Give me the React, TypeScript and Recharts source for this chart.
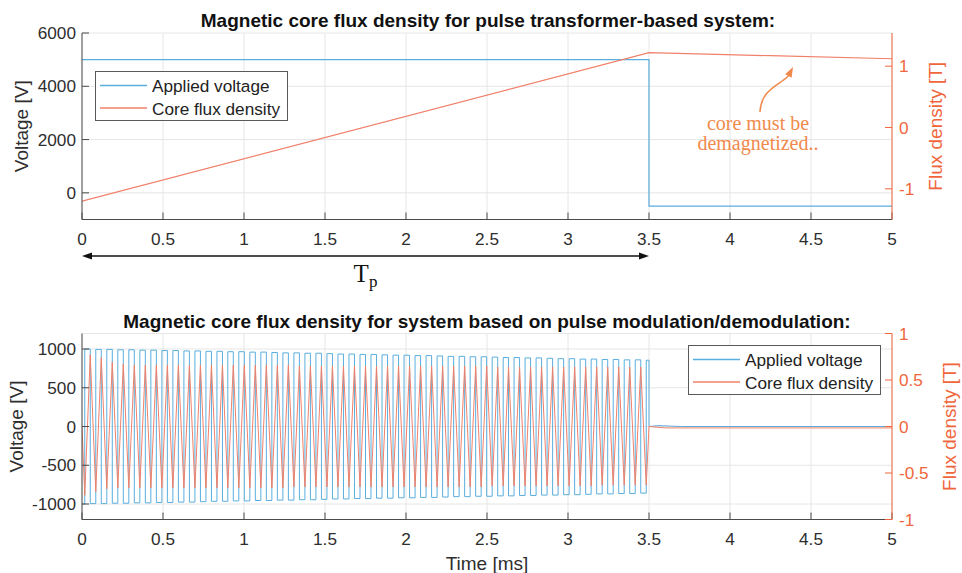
import React from 'react';
import { ComposedChart, Line, XAxis, YAxis, CartesianGrid, ReferenceLine, Label } from 'recharts';

// ---------- shared axis ticks ----------
const timeTicks = [0, 0.5, 1, 1.5, 2, 2.5, 3, 3.5, 4, 4.5, 5];

// ---------- pulse transformer-based system ----------
const pulseVoltageTimes = [0, 3.5, 3.5, 5];
const pulseVoltageValues = [5000, 5000, -500, -500];
const pulseFluxTimes = [0, 3.5, 4.25, 5];
const pulseFluxValues = [-1.2, 1.22, 1.17, 1.12];
const pulseVoltageTicks = [0, 2000, 4000, 6000];
const pulseFluxTicks = [-1, 0, 1];

// ---------- pulse modulation/demodulation system ----------
// instants where the bridge switches to +V (ms)
const riseTimes = [
  0.017, 0.085, 0.153, 0.221, 0.289, 0.357, 0.425, 0.493, 0.561, 0.629,
  0.697, 0.765, 0.833, 0.9, 0.968, 1.036, 1.104, 1.172, 1.24, 1.308,
  1.376, 1.444, 1.512, 1.58, 1.648, 1.716, 1.784, 1.852, 1.92, 1.988,
  2.056, 2.124, 2.192, 2.26, 2.328, 2.396, 2.464, 2.532, 2.6, 2.667,
  2.735, 2.803, 2.871, 2.939, 3.007, 3.075, 3.143, 3.211, 3.279, 3.347,
  3.415, 3.483,
];
// instants where the bridge switches to -V (ms)
const fallTimes = [
  0.051, 0.119, 0.187, 0.255, 0.323, 0.391, 0.459, 0.527, 0.595, 0.663,
  0.731, 0.799, 0.867, 0.934, 1.002, 1.07, 1.138, 1.206, 1.274, 1.342,
  1.41, 1.478, 1.546, 1.614, 1.682, 1.75, 1.818, 1.886, 1.954, 2.022,
  2.09, 2.158, 2.226, 2.294, 2.362, 2.43, 2.498, 2.566, 2.633, 2.701,
  2.769, 2.837, 2.905, 2.973, 3.041, 3.109, 3.177, 3.245, 3.313, 3.381,
  3.449,
];
// positive pulse level (V), one per riseTimes entry
const highLevels = [
  1000, 995, 995, 990, 990, 985, 985, 980, 980, 975,
  975, 970, 970, 965, 965, 960, 960, 955, 950, 950,
  945, 945, 940, 935, 935, 930, 930, 925, 920, 920,
  915, 915, 910, 905, 905, 900, 900, 895, 890, 890,
  885, 885, 880, 875, 875, 870, 870, 865, 865, 860,
  860, 855,
];
// negative pulse level (V), the one preceding each riseTimes entry
const lowLevels = [
  -1000, -995, -995, -990, -990, -985, -985, -980, -980, -975,
  -975, -970, -965, -965, -960, -960, -955, -955, -950, -950,
  -945, -945, -940, -935, -935, -930, -930, -925, -925, -920,
  -920, -915, -915, -910, -905, -905, -900, -900, -895, -895,
  -890, -890, -885, -885, -880, -880, -875, -870, -870, -865,
  -865, -860,
];
// flux maxima at each fall (T)
const fluxPeaks = [
  0.77, 0.74, 0.69, 0.67, 0.66, 0.66, 0.66, 0.66, 0.66, 0.66,
  0.66, 0.66, 0.66, 0.66, 0.66, 0.66, 0.66, 0.66, 0.66, 0.65,
  0.65, 0.65, 0.65, 0.65, 0.65, 0.65, 0.65, 0.65, 0.65, 0.65,
  0.65, 0.65, 0.65, 0.65, 0.65, 0.65, 0.65, 0.64, 0.64, 0.64,
  0.64, 0.64, 0.64, 0.64, 0.64, 0.64, 0.64, 0.64, 0.64, 0.64,
  0.64,
];
// flux minima at each rise (T)
const fluxTroughs = [
  -0.74, -0.7, -0.67, -0.66, -0.66, -0.66, -0.66, -0.66, -0.66, -0.66,
  -0.66, -0.66, -0.66, -0.66, -0.66, -0.66, -0.66, -0.66, -0.66, -0.65,
  -0.65, -0.65, -0.65, -0.65, -0.65, -0.65, -0.65, -0.65, -0.65, -0.65,
  -0.65, -0.65, -0.65, -0.65, -0.65, -0.65, -0.65, -0.64, -0.64, -0.64,
  -0.64, -0.64, -0.64, -0.64, -0.64, -0.64, -0.64, -0.63, -0.63, -0.63,
  -0.63, -0.63,
];
const burstEnd = 3.5;
const tailVoltageTimes = [3.5, 3.56, 3.64, 3.7, 5];
const tailVoltageValues = [0, 12, 4, 0, 0];
const tailFluxTimes = [3.5, 3.6, 5];
const tailFluxValues = [0, -0.015, -0.015];
const modVoltageTicks = [-1000, -500, 0, 500, 1000];
const modFluxTicks = [-1, -0.5, 0, 0.5, 1];

// ---------- series tables ----------
type Pt = { t: number; v: number };
const zip = (ts: number[], vs: number[]): Pt[] => ts.map((t, i) => ({ t, v: vs[i] }));

const pulseVoltage = zip(pulseVoltageTimes, pulseVoltageValues);
const pulseFlux = zip(pulseFluxTimes, pulseFluxValues);

const buildBurstVoltage = (): Pt[] => {
  const pts: Pt[] = [{ t: 0, v: lowLevels[0] }];
  riseTimes.forEach((tr, i) => {
    pts.push({ t: tr, v: lowLevels[i] });
    pts.push({ t: tr, v: highLevels[i] });
    const tEnd = i < fallTimes.length ? fallTimes[i] : burstEnd;
    pts.push({ t: tEnd, v: highLevels[i] });
    if (i + 1 < lowLevels.length) pts.push({ t: tEnd, v: lowLevels[i + 1] });
  });
  return pts.concat(zip(tailVoltageTimes, tailVoltageValues));
};

const buildBurstFlux = (): Pt[] => {
  const pts: Pt[] = [{ t: 0, v: 0 }];
  riseTimes.forEach((tr, i) => {
    pts.push({ t: tr, v: fluxTroughs[i] });
    if (i < fallTimes.length) pts.push({ t: fallTimes[i], v: fluxPeaks[i] });
  });
  return pts.concat(zip(tailFluxTimes, tailFluxValues));
};

const burstVoltage = buildBurstVoltage();
const burstFlux = buildBurstFlux();

// ---------- styling ----------
const FONT = "'Liberation Sans', Arial, Helvetica, sans-serif";
const SERIF = "'Liberation Serif', 'DejaVu Serif', serif";
const VOLT_COLOR = '#5AAEDD';
const FLUX_COLOR = '#F0806A';
const RIGHT_AXIS_COLOR = '#F0663C';
const NOTE_COLOR = '#F08A4C';
const AXIS_COLOR = '#4A4A4A';
const TICK_TEXT = '#2E2E2E';
const GRID_COLOR = '#E6E6E6';
const TICK_FONT = { fontSize: 17.2, fontFamily: FONT };

const sideTitle = (text: string, shift: number, color: string) => (props: any) => {
  const vb = props.viewBox || { x: 0, y: 0, width: 0, height: 0 };
  const cx = vb.x + shift;
  const cy = vb.y + vb.height / 2;
  return (
    <text x={cx} y={cy} transform={`rotate(-90 ${cx} ${cy})`} textAnchor="middle" fontSize={19} fontFamily={FONT} fill={color}>
      {text}
    </text>
  );
};

const bottomTitle = (text: string, shift: number) => (props: any) => {
  const vb = props.viewBox || { x: 0, y: 0, width: 0, height: 0 };
  return (
    <text x={vb.x + vb.width / 2} y={vb.y + shift} textAnchor="middle" fontSize={19} fontFamily={FONT} fill={TICK_TEXT}>
      {text}
    </text>
  );
};

// double-headed arrow marking the pulse width
const SpanArrow = (p: any) => {
  const { x1, y1, x2 } = p;
  const head = 10;
  const half = 3.5;
  const mid = (x1 + x2) / 2;
  return (
    <g>
      <line x1={x1 + head - 1} y1={y1} x2={x2 - head + 1} y2={y1} stroke="#111" strokeWidth={1.6} />
      <polygon points={`${x1},${y1} ${x1 + head},${y1 - half} ${x1 + head},${y1 + half}`} fill="#111" />
      <polygon points={`${x2},${y1} ${x2 - head},${y1 - half} ${x2 - head},${y1 + half}`} fill="#111" />
      <text x={mid} y={y1 + 26} textAnchor="middle" fontFamily={SERIF} fontSize={25} fill="#111">
        T<tspan fontSize={17} dy={5}>p</tspan>
      </text>
    </g>
  );
};

// curved call-out pointing at the residual flux
const NoteArrow = (p: any) => {
  const { x1, y1, x2, y2 } = p;
  const dx = x2 - x1;
  const dy = y2 - y1;
  const c1x = x1 + 0.03 * dx, c1y = y1 + 0.49 * dy;
  const c2x = x1 + 0.55 * dx, c2y = y1 + 0.58 * dy;
  const bx = x1 + 0.86 * dx, by = y1 + 0.8 * dy;
  const len = Math.hypot(x2 - bx, y2 - by) || 1;
  const ux = (x2 - bx) / len, uy = (y2 - by) / len;
  const w = 3.6;
  return (
    <g>
      <path d={`M${x1},${y1} C${c1x},${c1y} ${c2x},${c2y} ${bx},${by}`} fill="none" stroke={NOTE_COLOR} strokeWidth={1.5} />
      <polygon
        points={`${x2},${y2} ${bx - uy * w},${by + ux * w} ${bx + uy * w},${by - ux * w}`}
        fill={NOTE_COLOR}
      />
      <text x={x1 - 2} y={y1 + 18} textAnchor="middle" fontFamily={SERIF} fontSize={20} fill={NOTE_COLOR}>
        core must be
      </text>
      <text x={x1 - 2} y={y1 + 38} textAnchor="middle" fontFamily={SERIF} fontSize={20} fill={NOTE_COLOR}>
        demagnetized..
      </text>
    </g>
  );
};

const xAxisProps = {
  type: 'number' as const,
  dataKey: 't',
  domain: [0, 5],
  ticks: timeTicks,
  interval: 0 as const,
  allowDataOverflow: true,
  axisLine: { stroke: AXIS_COLOR },
  tickLine: { stroke: AXIS_COLOR },
  tickSize: -7,
  tickMargin: 20.5,
  tick: { ...TICK_FONT, fill: TICK_TEXT },
};

const TransformerChart = () => (
  <ComposedChart width={962} height={300} margin={{ top: 33, right: 30, bottom: 50.5, left: 22 }}>
    <CartesianGrid yAxisId="left" stroke={GRID_COLOR} />
    <XAxis {...xAxisProps} height={30} />
    <YAxis
      yAxisId="left"
      width={60}
      domain={[-1000, 6000]}
      ticks={pulseVoltageTicks}
      interval={0}
      allowDataOverflow
      axisLine={{ stroke: AXIS_COLOR }}
      tickLine={{ stroke: AXIS_COLOR }}
      tickSize={-7}
      tickMargin={13}
      tick={{ ...TICK_FONT, fill: TICK_TEXT }}
    >
      <Label content={sideTitle('Voltage [V]', 6, TICK_TEXT)} />
    </YAxis>
    <YAxis
      yAxisId="right"
      orientation="right"
      width={40}
      domain={[-1.5, 1.54]}
      ticks={pulseFluxTicks}
      interval={0}
      allowDataOverflow
      axisLine={{ stroke: RIGHT_AXIS_COLOR }}
      tickLine={{ stroke: RIGHT_AXIS_COLOR }}
      tickSize={-7}
      tickMargin={14}
      tick={{ ...TICK_FONT, fill: RIGHT_AXIS_COLOR }}
    >
      <Label content={sideTitle('Flux density [T]', 50, RIGHT_AXIS_COLOR)} />
    </YAxis>
    <Line yAxisId="left" data={pulseVoltage} dataKey="v" type="linear" stroke={VOLT_COLOR} strokeWidth={1.2} dot={false} isAnimationActive={false} />
    <Line yAxisId="right" data={pulseFlux} dataKey="v" type="linear" stroke={FLUX_COLOR} strokeWidth={1.2} dot={false} isAnimationActive={false} />
    <ReferenceLine
      yAxisId="left"
      segment={[{ x: 0, y: -2370 }, { x: 3.5, y: -2370 }]}
      ifOverflow="visible"
      shape={SpanArrow}
    />
    <ReferenceLine
      yAxisId="right"
      segment={[{ x: 4.185, y: 0.252 }, { x: 4.389, y: 0.986 }]}
      ifOverflow="visible"
      shape={NoteArrow}
    />
  </ComposedChart>
);

const ModulationChart = () => (
  <ComposedChart width={962} height={273} margin={{ top: 33.5, right: 30, bottom: 3.5, left: 22 }}>
    <CartesianGrid yAxisId="left" stroke={GRID_COLOR} />
    <XAxis {...xAxisProps} height={50}>
      <Label content={bottomTitle('Time [ms]', 50.5)} />
    </XAxis>
    <YAxis
      yAxisId="left"
      width={60}
      domain={[-1200, 1200]}
      ticks={modVoltageTicks}
      interval={0}
      allowDataOverflow
      axisLine={{ stroke: AXIS_COLOR }}
      tickLine={{ stroke: AXIS_COLOR }}
      tickSize={-7}
      tickMargin={13}
      tick={{ ...TICK_FONT, fill: TICK_TEXT }}
    >
      <Label content={sideTitle('Voltage [V]', 1, TICK_TEXT)} />
    </YAxis>
    <YAxis
      yAxisId="right"
      orientation="right"
      width={40}
      domain={[-1, 1]}
      ticks={modFluxTicks}
      interval={0}
      allowDataOverflow
      axisLine={{ stroke: RIGHT_AXIS_COLOR }}
      tickLine={{ stroke: RIGHT_AXIS_COLOR }}
      tickSize={-7}
      tickMargin={14}
      tick={{ ...TICK_FONT, fill: RIGHT_AXIS_COLOR }}
    >
      <Label content={sideTitle('Flux density [T]', 64, RIGHT_AXIS_COLOR)} />
    </YAxis>
    <Line yAxisId="left" data={burstVoltage} dataKey="v" type="linear" stroke={VOLT_COLOR} strokeWidth={1} dot={false} isAnimationActive={false} />
    <Line yAxisId="right" data={burstFlux} dataKey="v" type="linear" stroke={FLUX_COLOR} strokeWidth={1} dot={false} isAnimationActive={false} />
  </ComposedChart>
);

const LegendBox = ({ x, y }: { x: number; y: number }) => (
  <g>
    <rect x={x + 0.5} y={y + 0.5} width={192} height={49} fill="#fff" stroke="#5a5a5a" strokeWidth={1} />
    <line x1={x + 5} y1={y + 14.5} x2={x + 52} y2={y + 14.5} stroke={VOLT_COLOR} strokeWidth={1.5} />
    <text x={x + 57} y={y + 20.5} fontSize={17.2} fontFamily={FONT} fill="#222">Applied voltage</text>
    <line x1={x + 5} y1={y + 37} x2={x + 52} y2={y + 37} stroke={FLUX_COLOR} strokeWidth={1.5} />
    <text x={x + 57} y={y + 43.5} fontSize={17.2} fontFamily={FONT} fill="#222">Core flux density</text>
  </g>
);

export default function App() {
  return (
    <div style={{ position: 'absolute', left: 0, top: 0, width: 962, height: 573, background: '#fff', overflow: 'hidden' }}>
      <div style={{ position: 'absolute', left: 0, top: 0 }}>
        <TransformerChart />
      </div>
      <div style={{ position: 'absolute', left: 0, top: 300 }}>
        <ModulationChart />
      </div>
      <svg width={962} height={573} style={{ position: 'absolute', left: 0, top: 0, pointerEvents: 'none' }}>
        <text x={488} y={27} textAnchor="middle" fontSize={19} fontWeight="bold" fontFamily={FONT} fill="#111">
          Magnetic core flux density for pulse transformer-based system:
        </text>
        <text x={487} y={328} textAnchor="middle" fontSize={19} fontWeight="bold" fontFamily={FONT} fill="#111">
          Magnetic core flux density for system based on pulse modulation/demodulation:
        </text>
        <LegendBox x={95} y={71} />
        <LegendBox x={688} y={345} />
      </svg>
    </div>
  );
}
